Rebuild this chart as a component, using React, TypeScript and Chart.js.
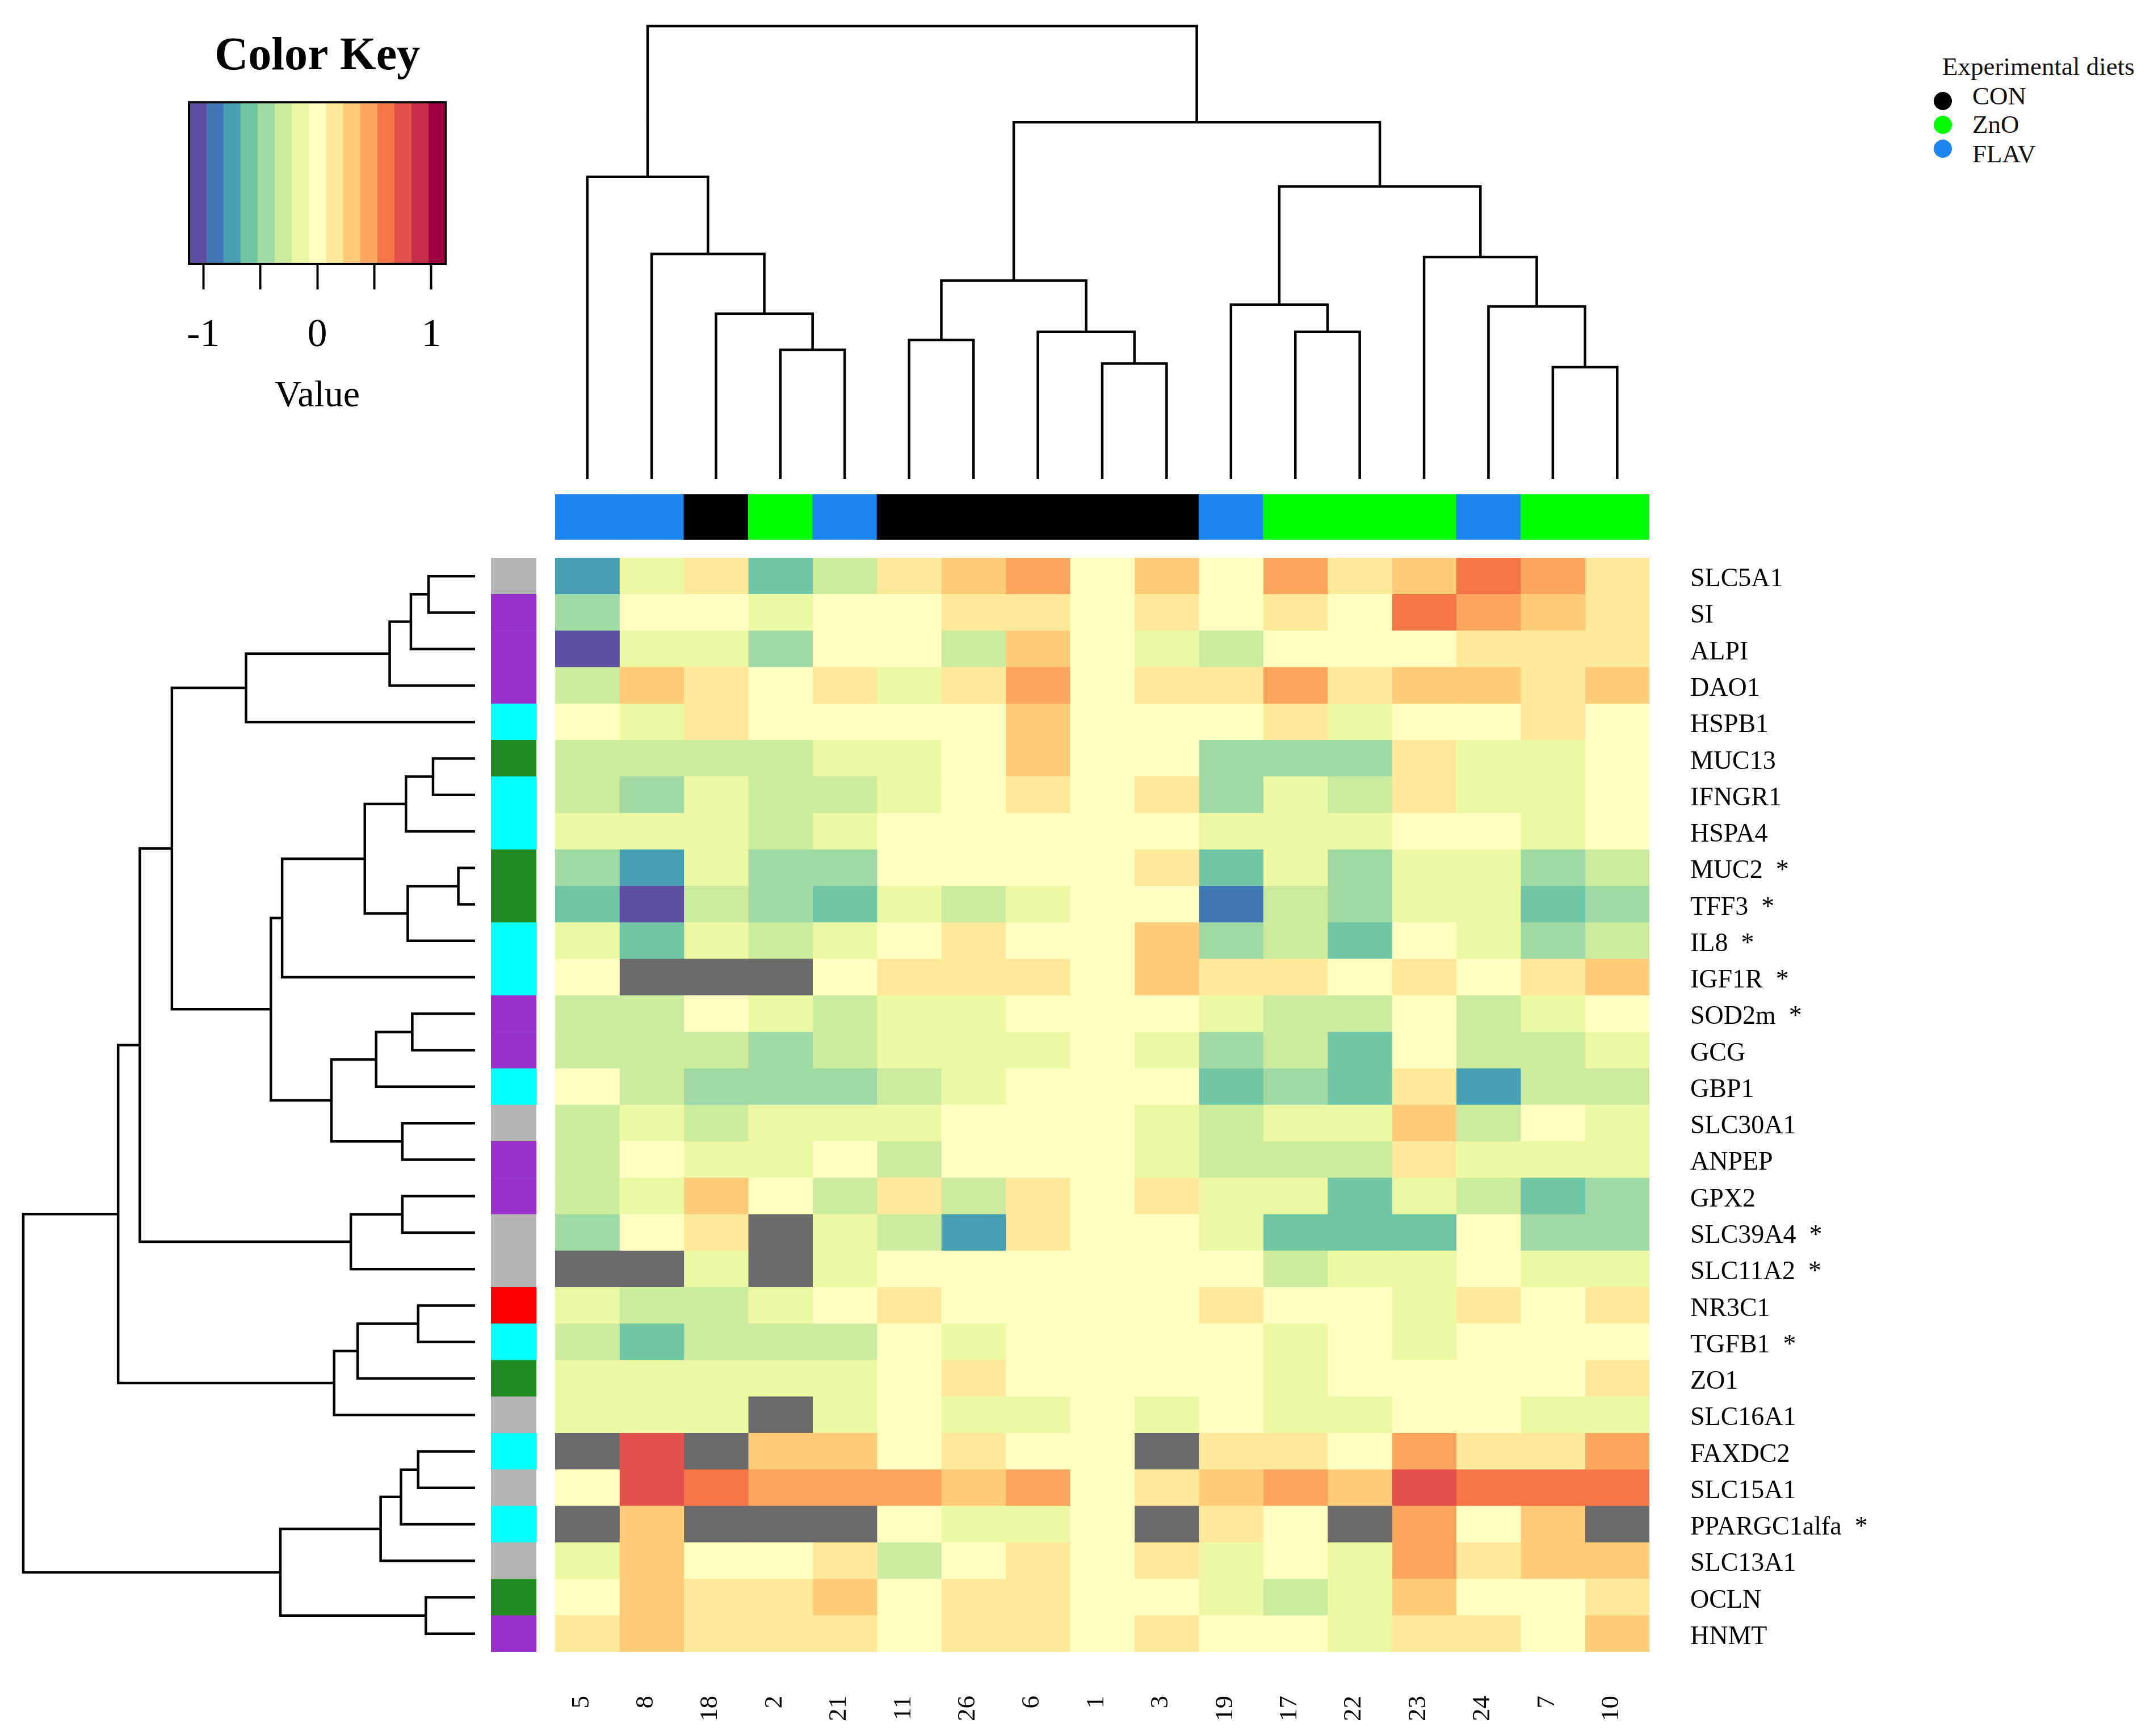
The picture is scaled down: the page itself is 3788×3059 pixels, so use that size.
import React, { useEffect, useRef } from 'react';
import { Chart, registerables } from 'chart.js';

Chart.register(...registerables);

const FONT = "'Liberation Serif', 'Times New Roman', serif";

// ---------- data ----------
const sampleIds = ['5', '8', '18', '2', '21', '11', '26', '6', '1', '3', '19', '17', '22', '23', '24', '7', '10'];
const sampleDiet = ['FLAV', 'FLAV', 'CON', 'ZnO', 'FLAV', 'CON', 'CON', 'CON', 'CON', 'CON', 'FLAV', 'ZnO', 'ZnO', 'ZnO', 'FLAV', 'ZnO', 'ZnO'];
const diets = ['CON', 'ZnO', 'FLAV'];

const genes = ['SLC5A1', 'SI', 'ALPI', 'DAO1', 'HSPB1', 'MUC13', 'IFNGR1', 'HSPA4', 'MUC2', 'TFF3', 'IL8', 'IGF1R',
  'SOD2m', 'GCG', 'GBP1', 'SLC30A1', 'ANPEP', 'GPX2', 'SLC39A4', 'SLC11A2', 'NR3C1', 'TGFB1', 'ZO1', 'SLC16A1',
  'FAXDC2', 'SLC15A1', 'PPARGC1alfa', 'SLC13A1', 'OCLN', 'HNMT'];
const geneSignificant = ['MUC2', 'TFF3', 'IL8', 'IGF1R', 'SOD2m', 'SLC39A4', 'SLC11A2', 'TGFB1', 'PPARGC1alfa'];
// functional group of each gene (row side colour bar)
const geneGroup = [1, 2, 2, 2, 3, 4, 3, 3, 4, 4, 3, 3, 2, 2, 3, 1, 2, 2, 1, 1, 5, 3, 4, 1, 3, 1, 3, 1, 4, 2];

// scaled expression, rows = genes, columns = samples (null = missing)
const expression: (number | null)[][] = [
  [-0.75, -0.15, 0.15, -0.6, -0.3, 0.15, 0.3, 0.45, 0, 0.3, 0, 0.45, 0.15, 0.3, 0.6, 0.45, 0.15], // SLC5A1
  [-0.45, 0, 0, -0.15, 0, 0, 0.15, 0.15, 0, 0.15, 0, 0.15, 0, 0.6, 0.45, 0.3, 0.15], // SI
  [-1.05, -0.15, -0.15, -0.45, 0, 0, -0.3, 0.3, 0, -0.15, -0.3, 0, 0, 0, 0.15, 0.15, 0.15], // ALPI
  [-0.3, 0.3, 0.15, 0, 0.15, -0.15, 0.15, 0.45, 0, 0.15, 0.15, 0.45, 0.15, 0.3, 0.3, 0.15, 0.3], // DAO1
  [0, -0.15, 0.15, 0, 0, 0, 0, 0.3, 0, 0, 0, 0.15, -0.15, 0, 0, 0.15, 0], // HSPB1
  [-0.3, -0.3, -0.3, -0.3, -0.15, -0.15, 0, 0.3, 0, 0, -0.45, -0.45, -0.45, 0.15, -0.15, -0.15, 0], // MUC13
  [-0.3, -0.45, -0.15, -0.3, -0.3, -0.15, 0, 0.15, 0, 0.15, -0.45, -0.15, -0.3, 0.15, -0.15, -0.15, 0], // IFNGR1
  [-0.15, -0.15, -0.15, -0.3, -0.15, 0, 0, 0, 0, 0, -0.15, -0.15, -0.15, 0, 0, -0.15, 0], // HSPA4
  [-0.45, -0.75, -0.15, -0.45, -0.45, 0, 0, 0, 0, 0.15, -0.6, -0.15, -0.45, -0.15, -0.15, -0.45, -0.3], // MUC2
  [-0.6, -1.05, -0.3, -0.45, -0.6, -0.15, -0.3, -0.15, 0, 0, -0.9, -0.3, -0.45, -0.15, -0.15, -0.6, -0.45], // TFF3
  [-0.15, -0.6, -0.15, -0.3, -0.15, 0, 0.15, 0, 0, 0.3, -0.45, -0.3, -0.6, 0, -0.15, -0.45, -0.3], // IL8
  [0, null, null, null, 0, 0.15, 0.15, 0.15, 0, 0.3, 0.15, 0.15, 0, 0.15, 0, 0.15, 0.3], // IGF1R
  [-0.3, -0.3, 0, -0.15, -0.3, -0.15, -0.15, 0, 0, 0, -0.15, -0.3, -0.3, 0, -0.3, -0.15, 0], // SOD2m
  [-0.3, -0.3, -0.3, -0.45, -0.3, -0.15, -0.15, -0.15, 0, -0.15, -0.45, -0.3, -0.6, 0, -0.3, -0.3, -0.15], // GCG
  [0, -0.3, -0.45, -0.45, -0.45, -0.3, -0.15, 0, 0, 0, -0.6, -0.45, -0.6, 0.15, -0.75, -0.3, -0.3], // GBP1
  [-0.3, -0.15, -0.3, -0.15, -0.15, -0.15, 0, 0, 0, -0.15, -0.3, -0.15, -0.15, 0.3, -0.3, 0, -0.15], // SLC30A1
  [-0.3, 0, -0.15, -0.15, 0, -0.3, 0, 0, 0, -0.15, -0.3, -0.3, -0.3, 0.15, -0.15, -0.15, -0.15], // ANPEP
  [-0.3, -0.15, 0.3, 0, -0.3, 0.15, -0.3, 0.15, 0, 0.15, -0.15, -0.15, -0.6, -0.15, -0.3, -0.6, -0.45], // GPX2
  [-0.45, 0, 0.15, null, -0.15, -0.3, -0.75, 0.15, 0, 0, -0.15, -0.6, -0.6, -0.6, 0, -0.45, -0.45], // SLC39A4
  [null, null, -0.15, null, -0.15, 0, 0, 0, 0, 0, 0, -0.3, -0.15, -0.15, 0, -0.15, -0.15], // SLC11A2
  [-0.15, -0.3, -0.3, -0.15, 0, 0.15, 0, 0, 0, 0, 0.15, 0, 0, -0.15, 0.15, 0, 0.15], // NR3C1
  [-0.3, -0.6, -0.3, -0.3, -0.3, 0, -0.15, 0, 0, 0, 0, -0.15, 0, -0.15, 0, 0, 0], // TGFB1
  [-0.15, -0.15, -0.15, -0.15, -0.15, 0, 0.15, 0, 0, 0, 0, -0.15, 0, 0, 0, 0, 0.15], // ZO1
  [-0.15, -0.15, -0.15, null, -0.15, 0, -0.15, -0.15, 0, -0.15, 0, -0.15, -0.15, 0, 0, -0.15, -0.15], // SLC16A1
  [null, 0.75, null, 0.3, 0.3, 0, 0.15, 0, 0, null, 0.15, 0.15, 0, 0.45, 0.15, 0.15, 0.45], // FAXDC2
  [0, 0.75, 0.6, 0.45, 0.45, 0.45, 0.3, 0.45, 0, 0.15, 0.3, 0.45, 0.3, 0.75, 0.6, 0.6, 0.6], // SLC15A1
  [null, 0.3, null, null, null, 0, -0.15, -0.15, 0, null, 0.15, 0, null, 0.45, 0, 0.3, null], // PPARGC1alfa
  [-0.15, 0.3, 0, 0, 0.15, -0.3, 0, 0.15, 0, 0.15, -0.15, 0, -0.15, 0.45, 0.15, 0.3, 0.3], // SLC13A1
  [0, 0.3, 0.15, 0.15, 0.3, 0, 0.15, 0.15, 0, 0, -0.15, -0.3, -0.15, 0.3, 0, 0, 0.15], // OCLN
  [0.15, 0.3, 0.15, 0.15, 0.15, 0, 0.15, 0.15, 0, 0.15, 0, 0, -0.15, 0.15, 0.15, 0, 0.3], // HNMT
];

// column dendrogram (hclust style: negative = leaf position, positive = earlier merge)
const colMerge = [
  [-4, -5], [-3, 1], [-2, 2], [-1, 3], [-9, -10], [-8, 5], [-6, -7], [7, 6],
  [-12, -13], [-11, 9], [-16, -17], [-15, 11], [-14, 12], [10, 13], [8, 14], [4, 15],
];
const colHeights = [2.85, 3.65, 4.97, 6.67, 2.55, 3.25, 3.07, 4.38, 3.25, 3.85, 2.47, 3.81, 4.9, 6.46, 7.88, 10.0];

// row dendrogram
const rowMerge = [
  [-1, -2], [1, -3], [2, -4], [3, -5], [-6, -7], [5, -8], [-9, -10], [7, -11], [6, 8], [9, -12],
  [-13, -14], [11, -15], [-16, -17], [12, 13], [10, 14], [4, 15], [-18, -19], [17, -20], [16, 18],
  [-21, -22], [20, -23], [21, -24], [19, 22], [-25, -26], [24, -27], [25, -28], [-29, -30], [26, 27], [23, 28],
];
const rowHeights = [1.03, 1.42, 1.89, 5.07, 0.93, 1.53, 0.37, 1.49, 2.44, 4.27, 1.39, 2.19, 1.61, 3.18, 4.52,
  6.71, 1.61, 2.75, 7.42, 1.26, 2.6, 3.12, 7.9, 1.26, 1.64, 2.09, 1.09, 4.31, 10.0];

// colour key
const keyMin = -1.125;
const keyMax = 1.125;
const keyTicks = [-1, -0.5, 0, 0.5, 1];
const keyTickLabels = ['-1', '', '0', '', '1'];

// ---------- styles ----------
const palette = ['#5E4FA2', '#3F78B5', '#48A1B3', '#70C6A5', '#A1D9A4', '#CDEB9D', '#EDF8A3', '#FFFFBF',
  '#FEE99A', '#FECB79', '#FCA55D', '#F57647', '#E2524A', '#C52D4B', '#9E0142'];
const naColor = '#6A6A6A';
const groupColors: Record<number, string> = { 1: '#B3B3B3', 2: '#9932CC', 3: '#00FFFF', 4: '#228B22', 5: '#FF0000' };
const dietColors: Record<string, string> = { CON: '#000000', ZnO: '#00FF00', FLAV: '#1C86EE' };

function valueColor(v: number | null): string {
  if (v === null || v === undefined) return naColor;
  const step = (keyMax - keyMin) / palette.length;
  let i = Math.floor((v - keyMin) / step + 1e-9);
  if (i < 0) i = 0;
  if (i >= palette.length) i = palette.length - 1;
  return palette[i];
}

function dendroDatasets(merge: number[][], heights: number[], horizontal: boolean) {
  const pos: number[] = [];
  const nodePos = (id: number) => (id < 0 ? -id - 1 : pos[id - 1]);
  const nodeH = (id: number) => (id < 0 ? 0 : heights[id - 1]);
  return merge.map(([a, b], i) => {
    const pa = nodePos(a);
    const pb = nodePos(b);
    const h = heights[i];
    pos[i] = (pa + pb) / 2;
    const pts = [[pa, nodeH(a)], [pa, h], [pb, h], [pb, nodeH(b)]];
    return {
      data: pts.map(([p, v]) => (horizontal ? { x: v, y: p } : { x: p, y: v })),
      showLine: true,
      borderColor: '#000',
      borderWidth: 4.5,
      pointRadius: 0,
      fill: false,
      tension: 0,
      clip: false as any,
      borderJoinStyle: 'miter' as const,
    };
  });
}

const common = {
  responsive: false,
  animation: false as const,
  devicePixelRatio: 1,
  events: [] as any[],
};
const noPlugins = { legend: { display: false }, tooltip: { enabled: false } };

const boxPlugin = {
  id: 'keyBox',
  afterDatasetsDraw(chart: any) {
    const { ctx, chartArea: a } = chart;
    ctx.save();
    ctx.strokeStyle = '#000';
    ctx.lineWidth = 4;
    ctx.strokeRect(a.left, a.top, a.right - a.left, a.bottom - a.top);
    ctx.restore();
  },
};

const boxes = {
  key: { left: 300, top: 0, width: 520, height: 780 },
  topDendro: { left: 968, top: 36, width: 1948, height: 818 },
  colSide: { left: 978, top: 871, width: 1928, height: 80 },
  leftDendro: { left: 31, top: 973, width: 816, height: 1948 },
  rowSide: { left: 865, top: 983, width: 80, height: 1928 },
  heat: { left: 978, top: 983, width: 2810, height: 2076 },
};

export default function App() {
  const keyRef = useRef<HTMLCanvasElement>(null);
  const topRef = useRef<HTMLCanvasElement>(null);
  const colRef = useRef<HTMLCanvasElement>(null);
  const leftRef = useRef<HTMLCanvasElement>(null);
  const rowRef = useRef<HTMLCanvasElement>(null);
  const heatRef = useRef<HTMLCanvasElement>(null);

  useEffect(() => {
    const charts: Chart[] = [];
    const rowLabels = genes.map((g) => (geneSignificant.includes(g) ? g + '  *' : g));

    // colour key
    const step = (keyMax - keyMin) / palette.length;
    charts.push(new Chart(keyRef.current!, {
      type: 'bar',
      data: {
        labels: ['Value'],
        datasets: palette.map((col, i) => ({
          data: [[keyMin + i * step, keyMin + (i + 1) * step]],
          backgroundColor: col,
          borderWidth: 0,
          barPercentage: 1,
          categoryPercentage: 1,
          grouped: false,
        })) as any,
      },
      options: {
        ...common,
        indexAxis: 'y',
        layout: { padding: { left: 33, right: 35, top: 0, bottom: 0 }, autoPadding: false } as any,
        plugins: {
          ...noPlugins,
          title: {
            display: true, text: 'Color Key', color: '#000',
            font: { family: FONT, size: 82, weight: 'bold', lineHeight: 1.2 },
            padding: { top: 52, bottom: 29.8 },
          },
        },
        scales: {
          x: {
            type: 'linear', min: keyMin, max: keyMax, position: 'bottom',
            afterBuildTicks: (s: any) => { s.ticks = keyTicks.map((v) => ({ value: v })); },
            ticks: {
              autoSkip: false, maxRotation: 0, padding: 40, color: '#000',
              font: { family: FONT, size: 70 },
              callback: (_v: any, i: number) => keyTickLabels[i],
            },
            grid: { display: true, drawOnChartArea: false, drawTicks: true, tickLength: 45, tickWidth: 4, tickColor: '#000' },
            border: { display: true, color: '#000', width: 4 },
            title: { display: true, text: 'Value', color: '#000', font: { family: FONT, size: 66 }, padding: { top: 0, bottom: 42 } },
            afterFit: (s: any) => { s.height = 315; s.paddingLeft = 0; s.paddingRight = 0; },
          },
          y: { type: 'category', display: false, offset: true },
        },
      } as any,
      plugins: [boxPlugin],
    }));

    // column dendrogram
    charts.push(new Chart(topRef.current!, {
      type: 'scatter',
      data: { datasets: dendroDatasets(colMerge, colHeights, false) as any },
      options: {
        ...common,
        layout: { padding: 10, autoPadding: false } as any,
        plugins: noPlugins,
        scales: {
          x: { type: 'linear', min: -0.5, max: sampleIds.length - 0.5, display: false },
          y: { type: 'linear', min: 0, max: Math.max(...colHeights), display: false },
        },
      } as any,
    }));

    // column side colours (diet)
    charts.push(new Chart(colRef.current!, {
      type: 'bar',
      data: {
        labels: sampleIds,
        datasets: [{
          data: sampleDiet.map(() => 1),
          backgroundColor: sampleDiet.map((d) => dietColors[d]),
          borderWidth: 0, barPercentage: 1, categoryPercentage: 1,
        }],
      },
      options: {
        ...common,
        layout: { padding: 0, autoPadding: false } as any,
        plugins: noPlugins,
        scales: {
          x: { type: 'category', display: false, offset: true },
          y: { type: 'linear', min: 0, max: 1, display: false },
        },
      } as any,
    }));

    // row dendrogram
    charts.push(new Chart(leftRef.current!, {
      type: 'scatter',
      data: { datasets: dendroDatasets(rowMerge, rowHeights, true) as any },
      options: {
        ...common,
        layout: { padding: 10, autoPadding: false } as any,
        plugins: noPlugins,
        scales: {
          x: { type: 'linear', min: 0, max: Math.max(...rowHeights), reverse: true, display: false },
          y: { type: 'linear', min: -0.5, max: genes.length - 0.5, reverse: true, display: false },
        },
      } as any,
    }));

    // row side colours (gene group)
    charts.push(new Chart(rowRef.current!, {
      type: 'bar',
      data: {
        labels: genes,
        datasets: [{
          data: geneGroup.map(() => 1),
          backgroundColor: geneGroup.map((g) => groupColors[g]),
          borderWidth: 0, barPercentage: 1, categoryPercentage: 1,
        }],
      },
      options: {
        ...common,
        indexAxis: 'y',
        layout: { padding: 0, autoPadding: false } as any,
        plugins: noPlugins,
        scales: {
          y: { type: 'category', display: false, offset: true },
          x: { type: 'linear', min: 0, max: 1, display: false },
        },
      } as any,
    }));

    // heatmap
    charts.push(new Chart(heatRef.current!, {
      type: 'bar',
      data: {
        labels: rowLabels,
        datasets: sampleIds.map((id, c) => ({
          label: id,
          data: genes.map(() => [c, c + 1]),
          backgroundColor: expression.map((row) => valueColor(row[c])),
          borderWidth: 0,
          barPercentage: 1,
          categoryPercentage: 1,
          grouped: false,
        })) as any,
      },
      options: {
        ...common,
        indexAxis: 'y',
        layout: { padding: 0, autoPadding: false } as any,
        plugins: noPlugins,
        scales: {
          x: { type: 'linear', min: 0, max: sampleIds.length, display: false },
          xl: {
            type: 'category', labels: sampleIds, position: 'bottom', offset: true,
            grid: { display: false, drawTicks: false }, border: { display: false },
            ticks: { autoSkip: false, minRotation: 90, maxRotation: 90, padding: 77, labelOffset: -10, color: '#000', font: { family: FONT, size: 45 } },
            afterFit: (s: any) => { s.height = 148; s.paddingLeft = 0; s.paddingRight = 0; },
          },
          y: {
            type: 'category', position: 'right', offset: true,
            grid: { display: false, drawTicks: false }, border: { display: false },
            ticks: { autoSkip: false, padding: 72, labelOffset: 6, color: '#000', font: { family: FONT, size: 46 } },
            afterFit: (s: any) => { s.width = 882; s.paddingTop = 0; s.paddingBottom = 0; },
          },
        },
      } as any,
    }));

    return () => charts.forEach((c) => c.destroy());
  }, []);

  const cv = (ref: React.RefObject<HTMLCanvasElement>, b: { left: number; top: number; width: number; height: number }) => (
    <canvas
      ref={ref}
      width={b.width}
      height={b.height}
      style={{ position: 'absolute', left: b.left, top: b.top, width: b.width, height: b.height }}
    />
  );

  const legendText: React.CSSProperties = {
    position: 'absolute', fontFamily: FONT, fontSize: 45, lineHeight: '45px', color: '#111', whiteSpace: 'nowrap',
  };
  const entryTops = [147, 197, 249];
  const dotCenters = [178, 220, 262];

  return (
    <div style={{ position: 'absolute', left: 0, top: 0, width: 3788, height: 3059, background: '#fff', overflow: 'hidden' }}>
      {cv(keyRef, boxes.key)}
      {cv(topRef, boxes.topDendro)}
      {cv(colRef, boxes.colSide)}
      {cv(leftRef, boxes.leftDendro)}
      {cv(rowRef, boxes.rowSide)}
      {cv(heatRef, boxes.heat)}
      <div style={{ ...legendText, left: 3422, top: 95 }}>Experimental diets</div>
      {diets.map((d, i) => (
        <React.Fragment key={d}>
          <div style={{
            position: 'absolute', left: 3423 - 16, top: dotCenters[i] - 16, width: 32, height: 32,
            borderRadius: '50%', background: dietColors[d],
          }} />
          <div style={{ ...legendText, left: 3475, top: entryTops[i] }}>{d}</div>
        </React.Fragment>
      ))}
    </div>
  );
}
